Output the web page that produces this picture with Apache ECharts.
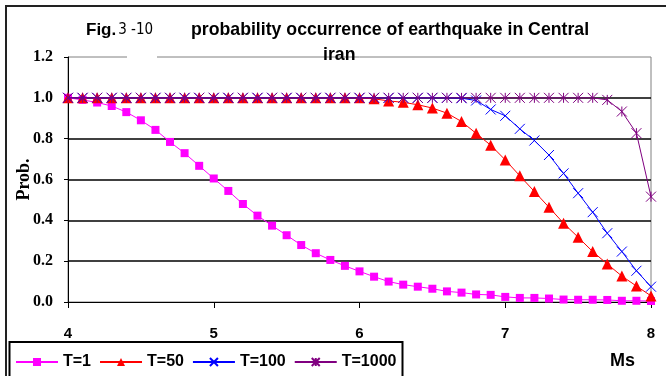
<!DOCTYPE html>
<html><head><meta charset="utf-8">
<script src="https://cdn.jsdelivr.net/npm/echarts@6/dist/echarts.min.js"></script>
<style>html,body{margin:0;padding:0;background:#fff}#c{width:666px;height:376px}</style>
</head><body><div id="c"></div>
<script>
// ---- data ----
const msValues = [4.0,4.1,4.2,4.3,4.4,4.5,4.6,4.7,4.8,4.9,5.0,5.1,5.2,5.3,5.4,5.5,5.6,5.7,5.8,5.9,6.0,6.1,6.2,6.3,6.4,6.5,6.6,6.7,6.8,6.9,7.0,7.1,7.2,7.3,7.4,7.5,7.6,7.7,7.8,7.9,8.0];
const seriesNames = ['T=1','T=50','T=100','T=1000'];
const probT1 = [1.0,0.99,0.977,0.96,0.93,0.89,0.843,0.784,0.729,0.667,0.605,0.544,0.48,0.423,0.374,0.327,0.279,0.239,0.206,0.177,0.15,0.124,0.10,0.085,0.075,0.065,0.052,0.046,0.037,0.035,0.025,0.02,0.02,0.017,0.012,0.011,0.011,0.01,0.006,0.006,0.005];
const probT50 = [1.0,1.0,1.0,1.0,1.0,1.0,1.0,1.0,1.0,1.0,1.0,1.0,1.0,1.0,1.0,1.0,1.0,1.0,1.0,1.0,1.0,0.995,0.985,0.978,0.966,0.95,0.925,0.884,0.826,0.768,0.696,0.618,0.541,0.464,0.386,0.317,0.247,0.186,0.127,0.078,0.03];
const probT100 = [1.0,1.0,1.0,1.0,1.0,1.0,1.0,1.0,1.0,1.0,1.0,1.0,1.0,1.0,1.0,1.0,1.0,1.0,1.0,1.0,1.0,1.0,1.0,1.0,1.0,1.0,1.0,0.998,0.987,0.943,0.912,0.848,0.791,0.72,0.63,0.533,0.44,0.337,0.247,0.153,0.075];
const probT1000 = [1.0,1.0,1.0,1.0,1.0,1.0,1.0,1.0,1.0,1.0,1.0,1.0,1.0,1.0,1.0,1.0,1.0,1.0,1.0,1.0,1.0,1.0,1.0,1.0,1.0,1.0,1.0,1.0,1.0,1.0,1.0,1.0,1.0,1.0,1.0,1.0,1.0,0.99,0.933,0.827,0.516];
const xTicks = [4,5,6,7,8];
const yTicks = [0.0,0.2,0.4,0.6,0.8,1.0,1.2];
const titleFig = 'Fig.';
const titleFigNum = '3 -10';
const titleLine1 = 'probability occurrence of earthquake in Central';
const titleLine2 = 'iran';
const xName = 'Ms';
const yName = 'Prob.';

// ---- chart ----
const SANS = "'Liberation Sans', Arial, sans-serif";
const SERIF = "'Liberation Serif', 'Times New Roman', serif";
const colors = ['#FF00FF','#FF0000','#0000FF','#800080'];
const symbols = ['rect','triangle','path://M0,0L10,10M10,0L0,10','path://M0,0L10,10M10,0L0,10M5,0L5,10'];
const sizes = [8,11,10,10];
const allData = [probT1, probT50, probT100, probT1000];

const series = seriesNames.map((name, k) => {
  const stroked = k >= 2;
  return {
    name: name,
    type: 'line',
    data: msValues.map((m, i) => [m, allData[k][i]]),
    symbol: symbols[k],
    symbolSize: sizes[k],
    showAllSymbol: true,
    lineStyle: { color: colors[k], width: 1 },
    itemStyle: stroked
      ? { color: colors[k], borderColor: colors[k], borderWidth: 1 }
      : { color: colors[k], borderWidth: 0 },
    emphasis: { disabled: true },
    z: 2 + k
  };
});

const chart = echarts.init(document.getElementById('c'), null, { renderer: 'canvas' });
chart.setOption({
  animation: false,
  backgroundColor: '#fff',
  title: [
    { left: 86, top: 20, padding: 0, text: '{a|' + titleFig + '}{b|' + titleFigNum + '}',
      textStyle: { rich: {
        a: { fontFamily: SANS, fontWeight: 'bold', fontSize: 17, color: '#000', lineHeight: 20 },
        b: { fontFamily: "'Liberation Sans Narrow', 'DejaVu Sans Condensed', sans-serif", fontWeight: 'normal', fontSize: 15, color: '#000', lineHeight: 20, padding: [0,0,0,2] }
      } } },
    { left: 191, top: 20, padding: 0, text: titleLine1,
      textStyle: { fontFamily: SANS, fontWeight: 'bold', fontSize: 17.7, color: '#000', lineHeight: 20 } },
    { left: 323, top: 45, padding: 0, text: titleLine2,
      textStyle: { fontFamily: SANS, fontWeight: 'bold', fontSize: 17.7, color: '#000', lineHeight: 20 } },
    { left: 610, top: 351, padding: 0, text: xName,
      textStyle: { fontFamily: SANS, fontWeight: 'bold', fontSize: 18, color: '#000', lineHeight: 20 } }
  ],
  legend: {
    data: seriesNames,
    left: 15, top: 354, padding: 0,
    itemWidth: 42, itemHeight: 10, itemGap: 8,
    textStyle: { fontFamily: SANS, fontWeight: 'bold', fontSize: 16, color: '#000' },
    selectedMode: false
  },
  grid: { left: 68, right: 15, top: 57, bottom: 74, show: true, borderColor: '#808080', borderWidth: 1, backgroundColor: 'transparent' },
  xAxis: {
    type: 'value', min: xTicks[0], max: xTicks[xTicks.length - 1], interval: 1,
    axisLine: { show: true, lineStyle: { color: '#000', width: 1 } },
    axisTick: { show: true, inside: false, length: 6, lineStyle: { color: '#000' } },
    axisLabel: { fontFamily: SANS, fontWeight: 'bold', fontSize: 15, color: '#000', margin: 24 },
    splitLine: { show: false }
  },
  yAxis: {
    type: 'value', min: yTicks[0], max: yTicks[yTicks.length - 1], interval: 0.2,
    name: yName, nameLocation: 'middle', nameGap: 35, nameMoveOverlap: false,
    nameTextStyle: { fontFamily: SERIF, fontWeight: 'bold', fontSize: 18, color: '#000' },
    axisLine: { show: true, lineStyle: { color: '#000', width: 1 } },
    axisTick: { show: true, inside: false, length: 4, lineStyle: { color: '#000' } },
    axisLabel: { fontFamily: SERIF, fontWeight: 'bold', fontSize: 16, color: '#000', margin: 15,
      formatter: v => v.toFixed(1) },
    splitLine: { show: true, showMinLine: false, showMaxLine: false, lineStyle: { color: '#000', width: 1.5 } }
  },
  graphic: [
    { type: 'rect', z: 100, shape: { x: 127, y: 54, width: 30, height: 6 }, style: { fill: '#fff' } },
    { type: 'rect', z: 100, shape: { x: 6, y: 6, width: 720, height: 420 }, style: { fill: 'none', stroke: '#222', lineWidth: 2 } },
    { type: 'rect', z: 100, shape: { x: 9.5, y: 342, width: 393, height: 60 }, style: { fill: 'none', stroke: '#000', lineWidth: 2 } }
  ],
  series: series
});
</script>
</body></html>
